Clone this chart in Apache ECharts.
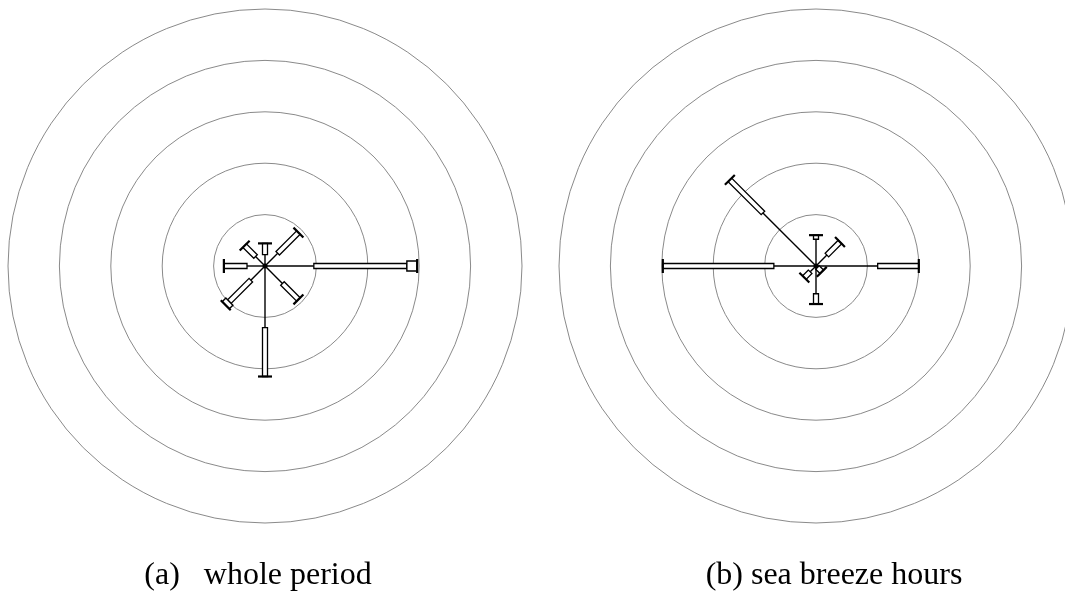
<!DOCTYPE html>
<html>
<head>
<meta charset="utf-8">
<script src="https://cdn.jsdelivr.net/npm/echarts@6/dist/echarts.min.js"></script>
<style>
html, body { margin: 0; padding: 0; background: #fff; }
#chart { width: 1065px; height: 604px; }
</style>
</head>
<body>
<div id="chart"></div>
<script>
// wind directions, degrees clockwise from north
var directions = [0, 45, 90, 135, 180, 225, 270, 315];
// frequency rings (%)
var ringMax = 25;
var ringStep = 5;

// per direction: end of thin-line class, end of narrow-box class, end of wide-box class
var wholeLine   = [1.1, 1.75, 4.75, 2.4, 6.0, 1.95, 1.75, 1.3];
var wholeNarrow = [2.2, 4.6, 13.8, 4.6, 10.75, 4.9, 4.0, 2.8];
var wholeWide   = [2.2, 4.6, 14.8, 4.6, 10.75, 5.4, 4.0, 2.8];

var seaLine   = [2.6, 1.5, 6.0, 0.2, 2.7, 0.8, 4.1, 7.3];
var seaNarrow = [3.0, 3.3, 10.0, 0.8, 3.7, 1.6, 14.9, 11.85];
var seaWide   = [3.0, 3.3, 10.0, 0.8, 3.7, 1.6, 14.9, 11.85];

var captions = ['(a)   whole period', '(b) sea breeze hours'];

function buildData(lineArr, narrowArr, wideArr) {
    var arr = [];
    directions.forEach(function (d, i) {
        // [radius(end), angle, lineEnd, narrowEnd]
        arr.push([wideArr[i], d, lineArr[i], narrowArr[i]]);
    });
    return arr;
}

function box(api, ang, ra, rb, w) {
    var a = api.coord([ra, ang]);
    var b = api.coord([rb, ang]);
    var dx = b[0] - a[0], dy = b[1] - a[1];
    var len = Math.sqrt(dx * dx + dy * dy) || 1;
    var nx = -dy / len * w / 2, ny = dx / len * w / 2;
    return [[a[0] + nx, a[1] + ny], [b[0] + nx, b[1] + ny], [b[0] - nx, b[1] - ny], [a[0] - nx, a[1] - ny]];
}

function renderSpoke(params, api) {
    var rEnd = api.value(0);
    var ang = api.value(1);
    var rLine = api.value(2);
    var rNarrow = api.value(3);
    var c = api.coord([0, ang]);
    var far = api.coord([ringMax, ang]);
    var ux = far[0] - c[0], uy = far[1] - c[1];
    var ul = Math.sqrt(ux * ux + uy * uy);
    ux /= ul; uy /= ul;
    var pLine = api.coord([rLine, ang]);
    var pEnd = api.coord([rEnd, ang]);
    var children = [];
    children.push({
        type: 'line',
        shape: { x1: c[0], y1: c[1], x2: pLine[0], y2: pLine[1] },
        style: { stroke: '#000', lineWidth: 1.4 }
    });
    if (rNarrow > rLine) {
        children.push({
            type: 'polygon',
            shape: { points: box(api, ang, rLine, rNarrow, 5) },
            style: { fill: '#fff', stroke: '#000', lineWidth: 1.3 }
        });
    }
    if (rEnd > rNarrow) {
        children.push({
            type: 'polygon',
            shape: { points: box(api, ang, rNarrow, rEnd, 10) },
            style: { fill: '#fff', stroke: '#000', lineWidth: 1.4 }
        });
    }
    // end cap
    var h = 7;
    children.push({
        type: 'line',
        shape: { x1: pEnd[0] - uy * h, y1: pEnd[1] + ux * h, x2: pEnd[0] + uy * h, y2: pEnd[1] - ux * h },
        style: { stroke: '#000', lineWidth: 2.2 }
    });
    if (params.dataIndex === 0) {
        children.push({
            type: 'circle',
            shape: { cx: c[0], cy: c[1], r: 2.5 },
            style: { fill: '#000' }
        });
    }
    return { type: 'group', children: children };
}

var chart = echarts.init(document.getElementById('chart'));

function angleAxis(idx) {
    return {
        polarIndex: idx, type: 'value', min: 0, max: 360,
        startAngle: 90, clockwise: true, show: false
    };
}
function radiusAxis(idx) {
    return {
        polarIndex: idx, type: 'value', min: 0, max: ringMax, interval: ringStep,
        axisLine: { show: false }, axisTick: { show: false }, axisLabel: { show: false },
        splitLine: { show: true, lineStyle: { color: '#8a8a8a', width: 1 } }
    };
}

var option = {
    backgroundColor: '#fff',
    animation: false,
    polar: [
        { center: [265, 266], radius: 257 },
        { center: [816, 266], radius: 257 }
    ],
    angleAxis: [angleAxis(0), angleAxis(1)],
    radiusAxis: [radiusAxis(0), radiusAxis(1)],
    series: [
        {
            type: 'custom', coordinateSystem: 'polar', polarIndex: 0,
            renderItem: renderSpoke, data: buildData(wholeLine, wholeNarrow, wholeWide), silent: true
        },
        {
            type: 'custom', coordinateSystem: 'polar', polarIndex: 1,
            renderItem: renderSpoke, data: buildData(seaLine, seaNarrow, seaWide), silent: true
        }
    ],
    graphic: [
        {
            type: 'text', x: 258, y: 576,
            style: { text: captions[0], font: '32px "Liberation Serif"', fill: '#000', align: 'center', verticalAlign: 'middle' }
        },
        {
            type: 'text', x: 834, y: 576,
            style: { text: captions[1], font: '32px "Liberation Serif"', fill: '#000', align: 'center', verticalAlign: 'middle' }
        }
    ]
};
chart.setOption(option);
</script>
</body>
</html>
